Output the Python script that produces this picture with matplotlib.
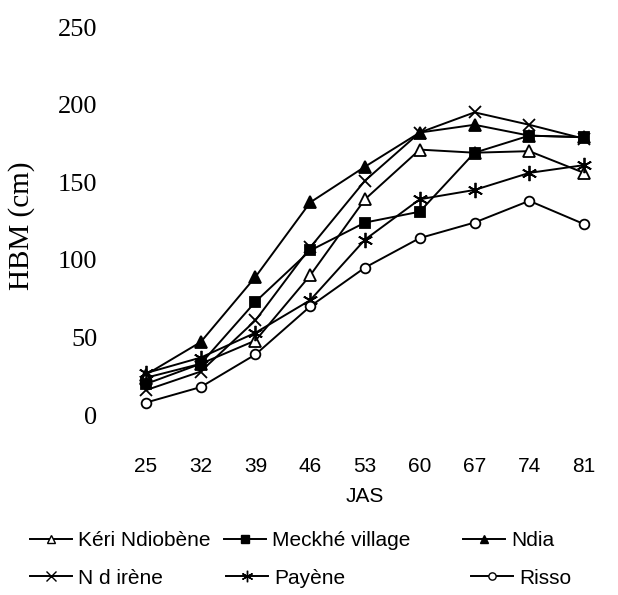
import matplotlib
matplotlib.use("Agg")
import matplotlib.pyplot as plt
from matplotlib.lines import Line2D

# data
jas = [25, 32, 39, 46, 53, 60, 67, 74, 81]
keri = [24, 33, 48, 90, 139, 171, 169, 170, 156]
meckhe = [20, 33, 73, 106, 124, 131, 169, 180, 179]
ndia = [26, 47, 89, 137, 160, 182, 187, 180, 179]
ndirene = [16, 28, 61, 108, 151, 182, 195, 187, 178]
payene = [27, 37, 53, 74, 113, 139, 145, 156, 161]
risso = [8, 18, 39, 70, 95, 114, 124, 138, 123]

names = ["Kéri Ndiobène", "Meckhé village", "Ndia", "N d irène", "Payène", "Risso"]
series = [keri, meckhe, ndia, ndirene, payene, risso]
yticks = [0, 50, 100, 150, 200, 250]

# marker, facecolor, size, zorder
styles = [("^", "white", 8, 3), ("s", "black", 7, 4), ("^", "black", 8, 2),
          ("x", "black", 9, 5), ((6, 2, 0), "black", 11, 3), ("o", "white", 7, 3)]
# legend anchors in pixels (x, y from top)
leg_pos = [(30, 541), (224, 541), (463, 541), (30, 578), (226, 578), (471, 578)]

W, H = 618, 595
fig = plt.figure(figsize=(W / 100, H / 100), dpi=100)
ax = fig.add_axes([122.5 / W, (H - 415) / H, 485 / W, (415 - 27) / H])

lines = []
for vals, (mk, fc, ms, z) in zip(series, styles):
    l, = ax.plot(jas, vals, color="black", lw=1.4, marker=mk, markersize=ms,
                 markerfacecolor=fc, markeredgecolor="black", markeredgewidth=1.3,
                 clip_on=False, zorder=z)
    lines.append(l)

ax.set_xlim(22, 84)
ax.set_ylim(0, 250)
ax.set_xticks(jas)
ax.set_xticklabels([str(v) for v in jas], fontsize=15, family="Liberation Sans")
ax.set_yticks(yticks)
ax.set_yticklabels([str(v) for v in yticks], fontsize=19, family="Liberation Serif")
ax.tick_params(axis="x", length=0, pad=30)
ax.tick_params(axis="y", length=0, pad=18)
for s in ax.spines.values():
    s.set_visible(False)

fig.text(22 / W, 1 - 226 / H, "HBM (cm)", rotation=90, ha="center", va="center",
         fontsize=21, family="Liberation Serif")
fig.text(0.5 * (146 + 584) / W, 1 - 497 / H, "JAS", ha="center", va="center",
         fontsize=15, family="Liberation Sans")

for l, name, (px, py) in zip(lines, names, leg_pos):
    h = Line2D([], [], color="black", lw=1.4, marker=l.get_marker(),
               markersize=l.get_markersize() * 0.75,
               markerfacecolor=l.get_markerfacecolor(), markeredgecolor="black")
    fig.legend(handles=[h], labels=[name], loc="center left",
               bbox_to_anchor=(px / W, 1 - py / H), frameon=False,
               borderpad=0, borderaxespad=0, handlelength=2.0, handletextpad=0.3,
               prop={"family": "Liberation Sans", "size": 15})

fig.savefig("out.png", dpi=100)
